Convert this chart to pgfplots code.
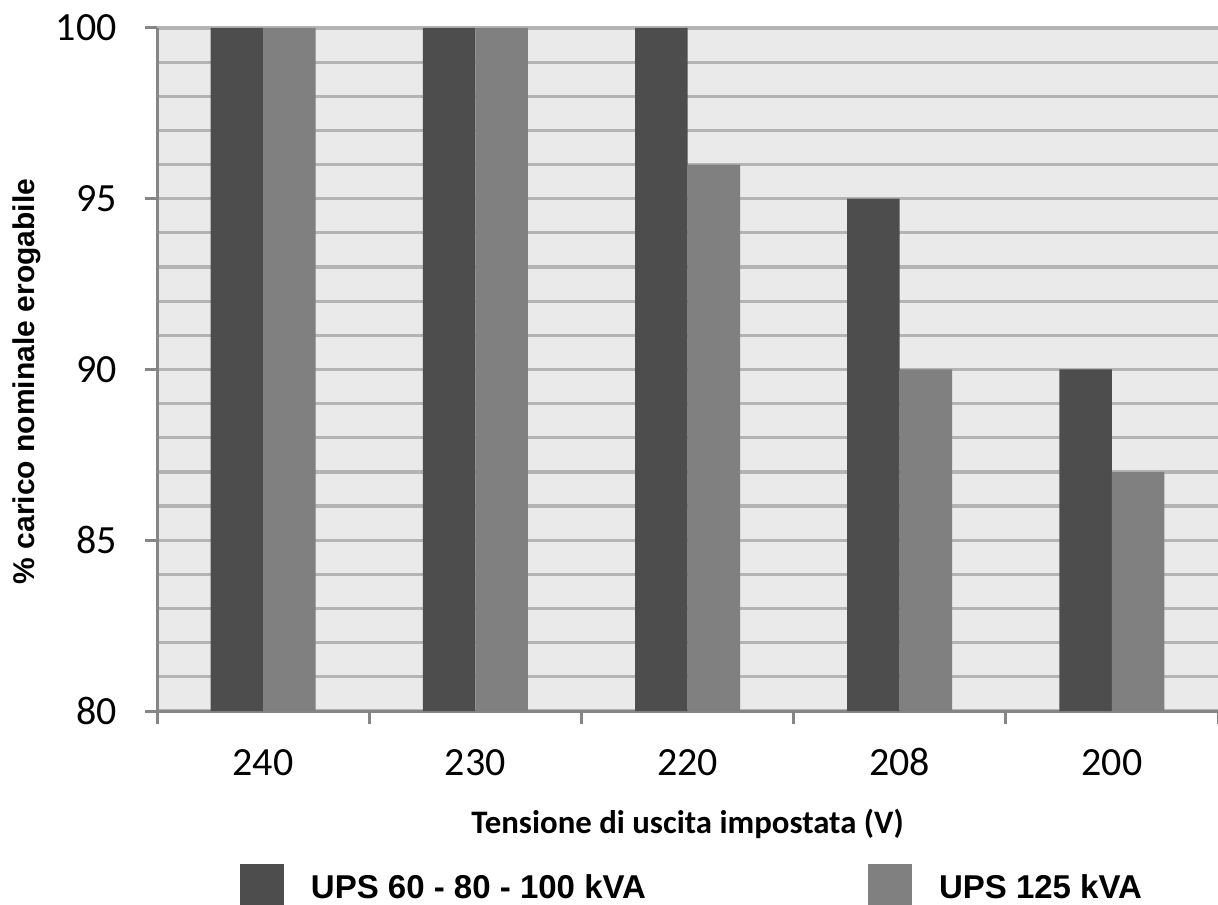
\documentclass[border=0pt]{standalone}
\usepackage{pgfplots}
\pgfplotsset{compat=1.18}
\usepackage{fontspec}
\setmainfont{Carlito}
\newfontfamily\arial{Liberation Sans}
\definecolor{bgc}{HTML}{EAEAEA}
\definecolor{gridc}{HTML}{B4B4B4}
\definecolor{axc}{HTML}{868686}
\definecolor{darkbar}{HTML}{4D4D4D}
\definecolor{lightbar}{HTML}{808080}
\begin{document}
\begin{tikzpicture}
\begin{axis}[
  set layers,
  at={(78.5pt,96.5pt)}, anchor=south west,
  scale only axis, width=530.5pt, height=341.5pt,
  xmin=-0.5, xmax=4.5, ymin=80, ymax=100,
  ybar=0pt, bar width=26.25pt,
  axis background/.style={fill=bgc},
  axis lines*=left,
  axis line style={draw=axc, line width=1.5pt, -, /pgfplots/on layer=axis foreground},
  xtick={0,...,4}, xticklabels={240,230,220,208,200},
  minor xtick={-0.5,0.5,...,4.5},
  ytick={80,85,...,100},
  minor ytick={80,...,100},
  ymajorgrids, yminorgrids,
  major grid style={draw=gridc, line width=1.6pt},
  minor grid style={draw=gridc, line width=1.6pt},
  tick align=outside,
  major tick length=6pt, minor tick length=6.5pt,
  tick style={draw=axc, line width=1.5pt, /pgfplots/on layer=axis foreground},
  major x tick style={draw=none},
  minor y tick style={draw=none},
  /pgf/number format/assume math mode=true,
  xticklabel style={font=\fontsize{20}{24}\selectfont, inner sep=0pt, anchor=base, yshift=-26pt},
  yticklabel style={font=\fontsize{20}{24}\selectfont, inner sep=0pt, anchor=east, xshift=-14pt},
  xlabel={Tensione di uscita impostata (V)},
  xlabel style={at={(axis description cs:0.5,-0.180)}, anchor=base, font=\bfseries\fontsize{16.4}{19}\selectfont, inner sep=0pt},
  ylabel={\% carico nominale erogabile},
  ylabel style={at={(axis description cs:-0.1159,0.4824)}, anchor=base, font=\arial\bfseries\fontsize{15}{18}\selectfont, inner sep=0pt},
  legend columns=2,
  legend style={draw=none, fill=none, inner sep=0pt, outer sep=0pt,
    at={(axis description cs:0.0782,-0.224)}, anchor=north west,
    font=\arial\bfseries\fontsize{16.5}{19}\selectfont,
    nodes={inner sep=0pt},
    /tikz/every odd column/.style={column sep=13.5pt},
    /tikz/every even column/.style={column sep=111pt}},
]
\addplot[fill=darkbar, draw=none, legend image code/.code={\fill[darkbar] (0pt,-10pt) rectangle (22pt,12pt);}] coordinates {(0,100) (1,100) (2,100) (3,95) (4,90)};
\addplot[fill=lightbar, draw=none, legend image code/.code={\fill[lightbar] (0pt,-10pt) rectangle (22pt,12pt);}] coordinates {(0,100) (1,100) (2,96) (3,90) (4,87)};
\legend{UPS 60 - 80 - 100 kVA, UPS 125 kVA}
\end{axis}
\pgfresetboundingbox
\path[use as bounding box] (0,0) rectangle (609pt,452pt);
\end{tikzpicture}
\end{document}
